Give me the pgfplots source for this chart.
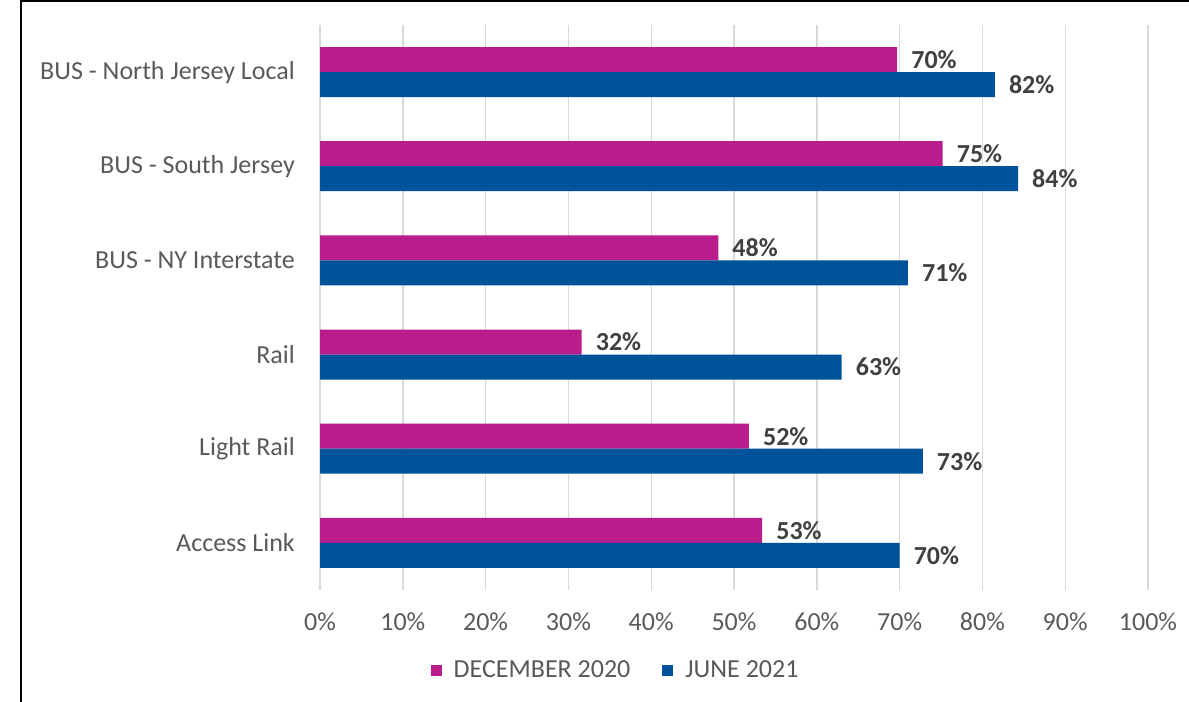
\documentclass[border=0pt]{standalone}
\usepackage{fontspec}
\setmainfont{Carlito}
\usepackage{pgfplots}
\pgfplotsset{compat=1.18}
\definecolor{pinkbar}{HTML}{B81D8B}
\definecolor{bluebar}{HTML}{00529B}
\definecolor{gridc}{HTML}{D9D9D9}
\definecolor{txt}{HTML}{595959}
\definecolor{lab}{HTML}{404040}
\newcommand{\bigf}{\fontsize{26bp}{31bp}\selectfont}
\begin{document}
\begin{tikzpicture}[x=1bp,y=1bp]
\begin{axis}[
  at={(320bp,112bp)}, anchor=south west,
  scale only axis, width=828bp, height=565bp,
  xmin=0, xmax=100, ymin=-0.5, ymax=5.5,
  xtick={0,10,...,100},
  xticklabels={0\%,10\%,20\%,30\%,40\%,50\%,60\%,70\%,80\%,90\%,100\%},
  ytick={0,1,2,3,4,5},
  yticklabels={Access Link,Light Rail\hspace{6bp},Rail,BUS - NY Interstate,BUS - South Jersey,BUS - North Jersey Local},
  axis line style={draw=none},
  major tick length=0pt,
  xmajorgrids, ymajorgrids=false,
  major grid style={draw=gridc, line width=1.4bp},
  xticklabel style={font=\bigf, text=txt, inner sep=0pt, yshift=-23bp},
  yticklabel style={font=\bigf, text=txt, inner sep=0pt, xshift=-25bp},
  point meta=explicit symbolic,
  nodes near coords={\pgfplotspointmeta\%},
  nodes near coords style={font=\bigf\bfseries, text=lab, anchor=west, inner sep=0pt, xshift=14bp},
  legend columns=2,
  legend style={at={(0.357,-0.1416)}, anchor=center, draw=none, font=\bigf, text=txt,
    /tikz/every odd column/.append style={column sep=10bp},
    /tikz/every even column/.append style={column sep=30bp}},
  clip=false,
]
\addplot[xbar, bar width=25bp, bar shift=12.5bp, fill=pinkbar, draw=none,
  every node near coord/.append style={yshift=12.5bp},
  legend image code/.code={\fill[pinkbar] (0bp,-5.5bp) rectangle (11bp,5.5bp);}]
  coordinates {(69.7,5)[70] (75.2,4)[75] (48.1,3)[48] (31.6,2)[32] (51.8,1)[52] (53.4,0)[53]};
\addplot[xbar, bar width=25bp, bar shift=-12.5bp, fill=bluebar, draw=none,
  every node near coord/.append style={yshift=-12.5bp},
  legend image code/.code={\fill[bluebar] (0bp,-5.5bp) rectangle (11bp,5.5bp);}]
  coordinates {(81.5,5)[82] (84.3,4)[84] (71.0,3)[71] (63.0,2)[63] (72.8,1)[73] (70.0,0)[70]};
\legend{DECEMBER 2020, JUNE 2021}
\end{axis}
\draw[line width=2bp] (20.5bp,-5bp) -- (20.5bp,701bp) -- (1195bp,701bp);
\pgfresetboundingbox
\useasboundingbox (0,0) rectangle (1189bp,702bp);
\end{tikzpicture}
\end{document}
